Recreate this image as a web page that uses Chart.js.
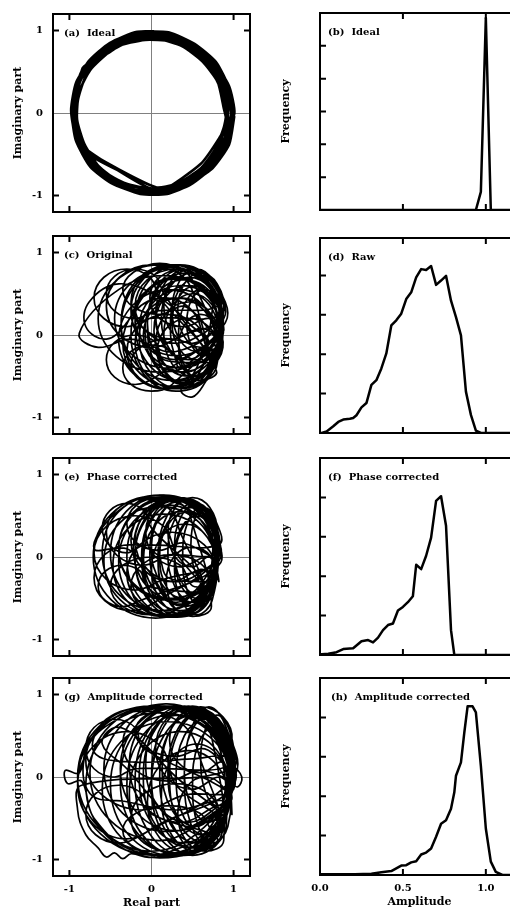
<!DOCTYPE html>
<html>
<head>
<meta charset="utf-8">
<script src="https://cdn.jsdelivr.net/npm/chart.js@4/dist/chart.umd.min.js"></script>
<style>
  html, body { margin: 0; padding: 0; background: #fff; overflow: hidden; width: 510px; height: 907px; }
  canvas { position: absolute; }
</style>
</head>
<body>
<canvas id="ca"></canvas><canvas id="cb"></canvas>
<canvas id="cc"></canvas><canvas id="cd"></canvas>
<canvas id="ce"></canvas><canvas id="cf"></canvas>
<canvas id="cg"></canvas><canvas id="ch"></canvas>
<script>
// ---- Complex-plane traces ----
// Ideal trace samples as [angle in degrees, magnitude]
const idealPolar = [
  [2,.97],[22,.96],[41,.95],[61,.94],[80,.95],[99,.96],[120,.95],[139,.96],[158,.97],[180,.96],[199,.95],[220,.94],[241,.93],[259,.95],[279,.96],[300,.95],[320,.93],[341,.94],
  [0,1.01],[19,1.0],[40,.98],[58,.98],[79,.99],[100,1.0],[121,.99],[141,.99],[162,.98],[181,.97],[200,.98],[221,.99],[240,.98],[262,.99],[281,1.0],[299,.99],[318,.99],[339,1.01],
  [1,.90],[20,.89],[39,.90],[60,.91],[81,.92],[102,.95],[127,.90],[147,1.0],[193,.95],[209,.92],[273,.90],[290,.91],[312,.90],[331,.89],[350,.90],
  [8,.93],[29,.92],[50,.93],[70,.92],[90,.93],[110,.92],[131,.93],[150,.92],[170,.91],[190,.92],[210,.93],[230,.92],[250,.91],[270,.92],[290,.93],[310,.92],[330,.91],[350,.92],
  [10,.96],[30,.97],[50,.96],[70,.97],[90,.96],[110,.97],[130,.96],[150,.97],[170,.95],[190,.96],[205,.94],[268,.91],[285,.93],[305,.95],[325,.96],[345,.97],
  [5,.88],[25,.89],[45,.88],[65,.89],[85,.90],[105,.91],[125,.90],[145,.91],[165,.92],[185,.91],[205,.90],[225,.91],[245,.92],[265,.93],[278,.95],[314,.86],[340,.88],
  [0,.99],[18,.97],[38,.96],[57,.97],[77,.98],[97,.97],[117,.96],[137,.97],[157,.96],[177,.95],[197,.96],[212,.93],[276,.92],[295,.94],[315,.96],[335,.98],[355,.99],
  [15,.94],[35,.95],[55,.94],[75,.95],[95,.94],[115,.93],[135,.94],[155,.95],[175,.94],[195,.93],[215,.95],[235,.96],[255,.97],[275,.96],[295,.95],[315,.94],[335,.95],[355,.94],
  [15,.91],[35,.90],[55,.91],[75,.90],[95,.89],[118,.91],[150,.99],[180,.93],[200,.92],[220,.93],[240,.94],[260,.96],[280,.98],[300,.97],[320,.96],[340,.95],[358,.97],
  [18,.99],[38,1.0],[58,.99],[78,1.0],[98,.99],[118,.98],[138,.98],[158,.99],[178,.98],[198,.97],[218,.97],[238,.96],[258,.98],[278,.97],[298,.97],[318,1.0],[338,1.02],[358,1.01]
];

// Original trace as [real, imaginary]
const originalPath = [
  [0.85,0.10],[0.70,0.46],[0.35,0.60],[0.00,0.45],[-0.15,0.10],[0.00,-0.26],[0.35,-0.40],[0.70,-0.25],
  [0.87,0.15],[0.69,0.65],[0.25,0.85],[-0.19,0.65],[-0.37,0.15],[-0.19,-0.35],[0.25,-0.55],[0.69,-0.35],
  [0.87,0.05],[0.75,0.44],[0.45,0.60],[0.15,0.44],[0.03,0.05],[0.15,-0.34],[0.45,-0.50],[0.75,-0.34],
  [0.85,0.20],[0.63,0.66],[0.10,0.85],[-0.43,0.66],[-0.65,0.20],[-0.43,-0.26],[0.10,-0.45],[0.63,-0.26],
  [0.85,0.15],[0.72,0.57],[0.40,0.75],[0.08,0.57],[-0.05,0.15],[0.08,-0.27],[0.40,-0.45],[0.72,-0.27],
  [0.80,-0.05],[0.62,0.37],[0.20,0.55],[-0.22,0.37],[-0.40,-0.05],[-0.22,-0.47],[0.20,-0.65],[0.62,-0.47],
  [0.82,0.05],[0.65,0.55],[0.15,0.72],[-0.40,0.55],[-0.88,0.02],[-0.65,-0.15],[-0.25,-0.05],[0.30,-0.20],
  [0.88,0.20],[0.77,0.59],[0.50,0.75],[0.23,0.59],[0.12,0.20],[0.23,-0.19],[0.50,-0.35],[0.77,-0.19],
  [0.85,0.00],[0.69,0.48],[0.30,0.68],[-0.09,0.48],[-0.25,0.00],[-0.09,-0.48],[0.30,-0.68],[0.69,-0.48],
  [0.55,0.35],[0.39,0.70],[0.00,0.85],[-0.39,0.70],[-0.55,0.35],[-0.39,0.00],[0.00,-0.15],[0.39,0.00],
  [0.85,0.20],[0.73,0.55],[0.45,0.70],[0.17,0.55],[0.05,0.20],[0.17,-0.15],[0.45,-0.30],[0.73,-0.15],
  [0.70,-0.20],[0.55,0.12],[0.20,0.25],[-0.15,0.12],[-0.30,-0.20],[-0.15,-0.52],[0.20,-0.65],[0.55,-0.52],
  [0.80,-0.30],[0.65,-0.58],[0.50,-0.75],[0.36,-0.68],[0.45,-0.52],[0.62,-0.38],
  [0.85,0.30],[0.69,0.69],[0.30,0.85],[-0.09,0.69],[-0.25,0.30],[-0.09,-0.09],[0.30,-0.25],[0.69,-0.09],
  [0.50,0.10],[0.10,0.45],[-0.40,0.62],[-0.76,0.40],[-0.80,0.10],[-0.55,-0.05],[-0.30,0.15],[-0.10,0.50],[0.30,0.70],[0.70,0.45],
  [0.88,0.05],[0.74,0.49],[0.40,0.67],[0.06,0.49],[-0.08,0.05],[0.06,-0.39],[0.40,-0.57],[0.74,-0.39],
  [0.65,-0.10],[0.50,0.29],[0.15,0.45],[-0.20,0.29],[-0.35,-0.10],[-0.20,-0.49],[0.15,-0.65],[0.50,-0.49],
  [0.75,0.40],[0.60,0.72],[0.25,0.85],[-0.10,0.72],[-0.25,0.40],[-0.10,0.08],[0.25,-0.05],[0.60,0.08],
  [0.85,0.00],[0.75,0.35],[0.50,0.50],[0.25,0.35],[0.15,0.00],[0.25,-0.35],[0.50,-0.50],[0.75,-0.35],
  [0.15,-0.30],[0.05,-0.09],[-0.20,0.00],[-0.45,-0.09],[-0.55,-0.30],[-0.45,-0.51],[-0.20,-0.60],[0.05,-0.51],
  [0.90,0.15],[0.74,0.65],[0.35,0.85],[-0.04,0.65],[-0.20,0.15],[-0.04,-0.35],[0.35,-0.55],[0.74,-0.35],
  [0.10,0.45],[-0.02,0.70],[-0.30,0.80],[-0.58,0.70],[-0.70,0.45],[-0.58,0.20],[-0.30,0.10],[-0.02,0.20],
  [0.85,0.25],[0.73,0.64],[0.45,0.80],[0.17,0.64],[0.05,0.25],[0.17,-0.14],[0.45,-0.30],[0.73,-0.14],
  [0.80,-0.10],[0.65,0.29],[0.30,0.45],[-0.05,0.29],[-0.20,-0.10],[-0.05,-0.49],[0.30,-0.65],[0.65,-0.49],
  [0.87,0.10],[0.78,0.52],[0.55,0.70],[0.32,0.52],[0.23,0.10],[0.32,-0.32],[0.55,-0.50],[0.78,-0.32],
  [0.85,0.20],[0.66,0.62],[0.20,0.80],[-0.26,0.62],[-0.45,0.20],[-0.26,-0.22],[0.20,-0.40],[0.66,-0.22],
  [0.88,0.30],[0.80,0.62],[0.60,0.75],[0.40,0.62],[0.32,0.30],[0.40,-0.02],[0.60,-0.15],[0.80,-0.02],
  [0.85,-0.05],[0.70,0.37],[0.35,0.55],[0.00,0.37],[-0.15,-0.05],[0.00,-0.47],[0.35,-0.65],[0.70,-0.47],
  [0.85,0.15],[0.76,0.47],[0.55,0.60],[0.34,0.47],[0.25,0.15],[0.34,-0.17],[0.55,-0.30],[0.76,-0.17],
  [0.83,-0.20],[0.72,0.08],[0.45,0.20],[0.18,0.08],[0.07,-0.20],[0.18,-0.48],[0.45,-0.60],[0.72,-0.48],
  [0.82,0.45],[0.70,0.70],[0.40,0.80],[0.10,0.70],[-0.02,0.45],[0.10,0.20],[0.40,0.10],[0.70,0.20],
  [0.87,0.00],[0.79,0.39],[0.60,0.55],[0.41,0.39],[0.33,0.00],[0.41,-0.39],[0.60,-0.55],[0.79,-0.39],
  [0.80,0.20],[0.65,0.55],[0.30,0.70],[-0.05,0.55],[-0.20,0.20],[-0.05,-0.15],[0.30,-0.30],[0.65,-0.15],
  [0.65,-0.35],[0.52,-0.14],[0.20,-0.05],[-0.12,-0.14],[-0.25,-0.35],[-0.12,-0.56],[0.20,-0.65],[0.52,-0.56],
  [0.85,0.35],[0.75,0.67],[0.50,0.80],[0.25,0.67],[0.15,0.35],[0.25,0.03],[0.50,-0.10],[0.75,0.03],
  [0.80,0.00],[0.67,0.32],[0.35,0.45],[0.03,0.32],[-0.10,0.00],[0.03,-0.32],[0.35,-0.45],[0.67,-0.32],
  [0.87,0.15],[0.81,0.43],[0.65,0.55],[0.49,0.43],[0.43,0.15],[0.49,-0.13],[0.65,-0.25],[0.81,-0.13],
  [0.55,0.55],[0.42,0.76],[0.10,0.87],[-0.22,0.76],[-0.35,0.55],[-0.22,0.34],[0.10,0.25],[0.42,0.34],
  [0.85,-0.10],[0.73,0.25],[0.45,0.40],[0.17,0.25],[0.05,-0.10],[0.17,-0.45],[0.45,-0.60],[0.73,-0.45],
  [0.87,0.10],[0.69,0.61],[0.25,0.82],[-0.19,0.61],[-0.37,0.10],[-0.19,-0.41],[0.25,-0.62],[0.69,-0.41],
  [0.85,0.30],[0.76,0.65],[0.55,0.80],[0.34,0.65],[0.25,0.30],[0.34,-0.05],[0.55,-0.20],[0.76,-0.05],
  [0.35,-0.40],[0.25,-0.20],[0.00,-0.12],[-0.25,-0.20],[-0.35,-0.40],[-0.25,-0.60],[0.00,-0.68],[0.25,-0.60],
  [0.85,0.10],[0.72,0.60],[0.40,0.80],[0.08,0.60],[-0.05,0.10],[0.08,-0.40],[0.40,-0.60],[0.72,-0.40],
  [0.87,-0.15],[0.79,0.13],[0.60,0.25],[0.41,0.13],[0.33,-0.15],[0.41,-0.43],[0.60,-0.55],[0.79,-0.43],
  [0.15,0.50],[0.05,0.71],[-0.20,0.80],[-0.45,0.71],[-0.55,0.50],[-0.45,0.29],[-0.20,0.20],[0.05,0.29],
  [0.80,0.35],[0.65,0.67],[0.30,0.80],[-0.05,0.67],[-0.20,0.35],[-0.05,0.03],[0.30,-0.10],[0.65,0.03],[0.84,0.20]
];

// Phase-corrected trace as [real, imaginary]
const phasePath = [
  [0.81,0.00],[0.59,0.52],[0.05,0.74],[-0.49,0.52],[-0.71,0.00],[-0.49,-0.52],[0.05,-0.74],[0.59,-0.52],
  [0.80,0.00],[0.64,0.50],[0.25,0.70],[-0.14,0.50],[-0.30,0.00],[-0.14,-0.50],[0.25,-0.70],[0.64,-0.50],
  [0.80,0.05],[0.67,0.49],[0.35,0.67],[0.03,0.49],[-0.10,0.05],[0.03,-0.39],[0.35,-0.57],[0.67,-0.39],
  [0.80,0.05],[0.60,0.55],[0.10,0.75],[-0.40,0.55],[-0.60,0.05],[-0.40,-0.45],[0.10,-0.65],[0.60,-0.45],
  [0.80,0.00],[0.70,0.39],[0.45,0.55],[0.20,0.39],[0.10,0.00],[0.20,-0.39],[0.45,-0.55],[0.70,-0.39],
  [0.80,0.10],[0.62,0.54],[0.20,0.72],[-0.22,0.54],[-0.40,0.10],[-0.22,-0.34],[0.20,-0.52],[0.62,-0.34],
  [0.78,-0.05],[0.55,0.50],[0.00,0.72],[-0.45,0.52],[-0.70,0.10],[-0.30,0.10],[-0.05,-0.15],[0.30,-0.55],
  [0.77,-0.10],[0.59,0.34],[0.15,0.52],[-0.29,0.34],[-0.47,-0.10],[-0.29,-0.54],[0.15,-0.72],[0.59,-0.54],
  [0.80,0.10],[0.68,0.52],[0.40,0.70],[0.12,0.52],[0.00,0.10],[0.12,-0.32],[0.40,-0.50],[0.68,-0.32],
  [0.20,-0.25],[0.07,0.03],[-0.25,0.15],[-0.57,0.03],[-0.70,-0.25],[-0.57,-0.53],[-0.25,-0.65],[0.07,-0.53],
  [0.80,0.00],[0.65,0.48],[0.30,0.68],[-0.05,0.48],[-0.20,0.00],[-0.05,-0.48],[0.30,-0.68],[0.65,-0.48],
  [0.35,0.30],[0.22,0.58],[-0.10,0.70],[-0.42,0.58],[-0.55,0.30],[-0.42,0.02],[-0.10,-0.10],[0.22,0.02],
  [0.80,0.05],[0.71,0.47],[0.50,0.65],[0.29,0.47],[0.20,0.05],[0.29,-0.37],[0.50,-0.55],[0.71,-0.37],
  [0.78,-0.05],[0.58,0.42],[0.10,0.61],[-0.38,0.42],[-0.58,-0.05],[-0.38,-0.52],[0.10,-0.71],[0.58,-0.52],
  [0.75,0.20],[0.60,0.55],[0.25,0.70],[-0.10,0.55],[-0.25,0.20],[-0.10,-0.15],[0.25,-0.30],[0.60,-0.15],
  [0.80,-0.20],[0.64,0.15],[0.25,0.30],[-0.14,0.15],[-0.30,-0.20],[-0.14,-0.55],[0.25,-0.70],[0.64,-0.55],
  [0.82,0.00],[0.68,0.51],[0.35,0.72],[0.02,0.51],[-0.12,0.00],[0.02,-0.51],[0.35,-0.72],[0.68,-0.51],
  [0.30,0.05],[0.15,0.37],[-0.20,0.50],[-0.55,0.37],[-0.70,0.05],[-0.55,-0.27],[-0.20,-0.40],[0.15,-0.27],
  [0.82,-0.05],[0.71,0.41],[0.45,0.60],[0.19,0.41],[0.08,-0.05],[0.19,-0.51],[0.45,-0.70],[0.71,-0.51],
  [0.80,0.05],[0.61,0.55],[0.15,0.75],[-0.31,0.55],[-0.50,0.05],[-0.31,-0.45],[0.15,-0.65],[0.61,-0.45],
  [0.82,0.00],[0.74,0.35],[0.55,0.50],[0.36,0.35],[0.28,0.00],[0.36,-0.35],[0.55,-0.50],[0.74,-0.35],
  [0.50,-0.35],[0.35,-0.10],[0.00,0.00],[-0.35,-0.10],[-0.50,-0.35],[-0.35,-0.60],[0.00,-0.70],[0.35,-0.60],
  [0.82,0.10],[0.67,0.54],[0.30,0.72],[-0.07,0.54],[-0.22,0.10],[-0.07,-0.34],[0.30,-0.52],[0.67,-0.34],
  [0.80,-0.05],[0.62,0.43],[0.20,0.63],[-0.22,0.43],[-0.40,-0.05],[-0.22,-0.53],[0.20,-0.73],[0.62,-0.53],
  [0.82,0.10],[0.74,0.49],[0.55,0.65],[0.36,0.49],[0.28,0.10],[0.36,-0.29],[0.55,-0.45],[0.74,-0.29],
  [0.80,-0.15],[0.68,0.24],[0.40,0.40],[0.12,0.24],[0.00,-0.15],[0.12,-0.54],[0.40,-0.70],[0.68,-0.54],
  [0.77,0.30],[0.65,0.60],[0.35,0.72],[0.05,0.60],[-0.07,0.30],[0.05,0.00],[0.35,-0.12],[0.65,0.00],
  [0.82,0.00],[0.76,0.42],[0.60,0.60],[0.44,0.42],[0.38,0.00],[0.44,-0.42],[0.60,-0.60],[0.76,-0.42],
  [0.75,-0.35],[0.60,-0.08],[0.25,0.03],[-0.10,-0.08],[-0.25,-0.35],[-0.10,-0.62],[0.25,-0.73],[0.60,-0.62],
  [0.80,0.00],[0.65,0.51],[0.30,0.72],[-0.05,0.51],[-0.20,0.00],[-0.05,-0.51],[0.30,-0.72],[0.65,-0.51],
  [0.80,0.30],[0.71,0.60],[0.50,0.72],[0.29,0.60],[0.20,0.30],[0.29,0.00],[0.50,-0.12],[0.71,0.00],
  [0.82,-0.30],[0.73,0.00],[0.50,0.12],[0.27,0.00],[0.18,-0.30],[0.27,-0.60],[0.50,-0.72],[0.73,-0.60],
  [0.50,0.40],[0.38,0.63],[0.10,0.72],[-0.18,0.63],[-0.30,0.40],[-0.18,0.17],[0.10,0.08],[0.38,0.17],
  [0.82,0.00],[0.71,0.50],[0.45,0.70],[0.19,0.50],[0.08,0.00],[0.19,-0.50],[0.45,-0.70],[0.71,-0.50],
  [0.80,0.10],[0.62,0.52],[0.20,0.70],[-0.22,0.52],[-0.40,0.10],[-0.22,-0.32],[0.20,-0.50],[0.62,-0.32],
  [0.00,0.35],[-0.09,0.56],[-0.30,0.65],[-0.51,0.56],[-0.60,0.35],[-0.51,0.14],[-0.30,0.05],[-0.09,0.14],
  [0.82,0.15],[0.77,0.47],[0.65,0.60],[0.53,0.47],[0.48,0.15],[0.53,-0.17],[0.65,-0.30],[0.77,-0.17],
  [0.80,-0.05],[0.67,0.37],[0.35,0.55],[0.03,0.37],[-0.10,-0.05],[0.03,-0.47],[0.35,-0.65],[0.67,-0.47],
  [-0.05,-0.35],[-0.14,-0.17],[-0.35,-0.10],[-0.56,-0.17],[-0.65,-0.35],[-0.56,-0.53],[-0.35,-0.60],[-0.14,-0.53],
  [0.82,-0.10],[0.74,0.32],[0.55,0.50],[0.36,0.32],[0.28,-0.10],[0.36,-0.52],[0.55,-0.70],[0.74,-0.52],
  [0.80,0.20],[0.65,0.55],[0.30,0.70],[-0.05,0.55],[-0.20,0.20],[-0.05,-0.15],[0.30,-0.30],[0.65,-0.15],
  [0.82,0.05],[0.70,0.51],[0.40,0.70],[0.10,0.51],[-0.02,0.05],[0.10,-0.41],[0.40,-0.60],[0.70,-0.41],[0.81,0.00]
];

// Amplitude-corrected trace as [real, imaginary]
const amplitudePath = [
  [1.00,-0.05],[0.72,0.59],[0.05,0.85],[-0.62,0.59],[-0.90,-0.05],[-0.62,-0.69],[0.05,-0.95],[0.72,-0.69],
  [0.98,-0.05],[0.78,0.57],[0.30,0.85],[-0.18,0.57],[-0.38,-0.05],[-0.18,-0.67],[0.30,-0.93],[0.78,-0.67],
  [0.95,0.00],[0.64,0.61],[0.00,0.86],[-0.64,0.61],[-0.90,0.00],[-0.64,-0.61],[0.00,-0.90],[0.64,-0.61],
  [1.00,0.00],[0.84,0.60],[0.45,0.86],[0.06,0.60],[-0.10,0.00],[0.06,-0.60],[0.45,-0.85],[0.84,-0.60],
  [0.90,0.10],[0.50,0.80],[-0.20,0.82],[-0.75,0.45],[-0.88,0.05],[-1.05,0.08],[-1.02,-0.08],[-0.85,-0.05],[-0.70,-0.50],[-0.20,-0.90],[0.50,-0.85],
  [0.98,0.10],[0.75,0.64],[0.20,0.86],[-0.35,0.64],[-0.58,0.10],[-0.35,-0.44],[0.20,-0.66],[0.75,-0.44],
  [1.00,-0.10],[0.81,0.50],[0.35,0.75],[-0.11,0.50],[-0.30,-0.10],[-0.11,-0.70],[0.35,-0.95],[0.81,-0.70],
  [0.95,0.20],[0.50,0.22],[-0.20,0.18],[-0.70,0.30],[-0.55,0.70],[0.00,0.85],[0.60,0.78],[0.95,0.35],
  [1.00,0.00],[0.87,0.57],[0.55,0.80],[0.23,0.57],[0.10,0.00],[0.23,-0.57],[0.55,-0.80],[0.87,-0.57],
  [0.30,-0.10],[0.12,0.36],[-0.30,0.55],[-0.72,0.36],[-0.90,-0.10],[-0.72,-0.56],[-0.30,-0.75],[0.12,-0.56],
  [1.00,-0.10],[0.78,0.50],[0.25,0.75],[-0.28,0.50],[-0.50,-0.10],[-0.28,-0.70],[0.25,-0.95],[0.78,-0.70],
  [0.90,-0.30],[0.30,-0.40],[-0.30,-0.30],[-0.75,-0.20],[-0.80,0.30],[-0.50,0.65],[0.10,0.85],[0.70,0.70],
  [1.00,0.05],[0.88,0.58],[0.60,0.80],[0.32,0.58],[0.20,0.05],[0.32,-0.48],[0.60,-0.70],[0.88,-0.48],
  [0.95,0.05],[0.70,0.63],[0.10,0.86],[-0.50,0.63],[-0.75,0.05],[-0.50,-0.53],[0.10,-0.77],[0.70,-0.53],
  [0.90,-0.50],[0.30,0.00],[-0.20,0.50],[-0.45,0.60],[-0.60,0.40],[-0.30,0.10],[0.20,-0.50],[0.50,-0.85],
  [1.00,-0.05],[0.82,0.59],[0.40,0.86],[-0.02,0.59],[-0.20,-0.05],[-0.02,-0.69],[0.40,-0.95],[0.82,-0.69],
  [0.00,-0.97],[-0.25,-0.93],[-0.35,-0.99],[-0.45,-0.92],[-0.55,-0.97],[-0.65,-0.86],[-0.80,-0.70],[-0.90,-0.40],[-0.85,-0.10],
  [0.98,0.10],[0.78,0.63],[0.30,0.85],[-0.18,0.63],[-0.38,0.10],[-0.18,-0.43],[0.30,-0.65],[0.78,-0.43],
  [1.00,-0.10],[0.85,0.50],[0.50,0.75],[0.15,0.50],[0.00,-0.10],[0.15,-0.70],[0.50,-0.95],[0.85,-0.70],
  [0.60,0.20],[0.40,0.62],[-0.10,0.80],[-0.60,0.62],[-0.80,0.20],[-0.60,-0.22],[-0.10,-0.40],[0.40,-0.22],
  [1.00,-0.15],[0.77,0.43],[0.20,0.67],[-0.37,0.43],[-0.60,-0.15],[-0.37,-0.73],[0.20,-0.97],[0.77,-0.73],
  [1.00,0.00],[0.90,0.50],[0.65,0.70],[0.40,0.50],[0.30,0.00],[0.40,-0.50],[0.65,-0.70],[0.90,-0.50],
  [1.00,0.10],[1.10,0.00],[1.05,-0.12],[0.95,-0.05],
  [1.00,-0.10],[0.74,0.52],[0.10,0.78],[-0.54,0.52],[-0.80,-0.10],[-0.54,-0.72],[0.10,-0.98],[0.74,-0.72],
  [0.97,0.15],[0.82,0.65],[0.45,0.85],[0.08,0.65],[-0.07,0.15],[0.08,-0.35],[0.45,-0.55],[0.82,-0.35],
  [0.97,-0.20],[0.79,0.33],[0.35,0.55],[-0.09,0.33],[-0.27,-0.20],[-0.09,-0.73],[0.35,-0.95],[0.79,-0.73],
  [1.00,0.10],[0.91,0.56],[0.70,0.75],[0.49,0.56],[0.40,0.10],[0.49,-0.36],[0.70,-0.55],[0.91,-0.36],
  [0.98,-0.25],[0.85,0.21],[0.55,0.40],[0.25,0.21],[0.12,-0.25],[0.25,-0.71],[0.55,-0.90],[0.85,-0.71],
  [0.95,0.35],[0.82,0.70],[0.50,0.85],[0.18,0.70],[0.05,0.35],[0.18,0.00],[0.50,-0.15],[0.82,0.00],
  [1.00,-0.10],[0.93,0.40],[0.75,0.60],[0.57,0.40],[0.50,-0.10],[0.57,-0.60],[0.75,-0.80],[0.93,-0.60],
  [0.95,0.00],[0.79,0.57],[0.40,0.80],[0.01,0.57],[-0.15,0.00],[0.01,-0.57],[0.40,-0.80],[0.79,-0.57],
  [0.85,-0.50],[0.69,-0.20],[0.30,-0.08],[-0.09,-0.20],[-0.25,-0.50],[-0.09,-0.80],[0.30,-0.92],[0.69,-0.80],
  [0.98,0.45],[0.87,0.73],[0.60,0.85],[0.33,0.73],[0.22,0.45],[0.33,0.17],[0.60,0.05],[0.87,0.17],
  [0.98,-0.45],[0.88,-0.13],[0.65,0.00],[0.42,-0.13],[0.32,-0.45],[0.42,-0.77],[0.65,-0.90],[0.88,-0.77],
  [0.75,0.40],[0.59,0.72],[0.20,0.85],[-0.19,0.72],[-0.35,0.40],[-0.19,0.08],[0.20,-0.05],[0.59,0.08],
  [1.00,0.00],[0.85,0.61],[0.50,0.86],[0.15,0.61],[0.00,0.00],[0.15,-0.61],[0.50,-0.86],[0.85,-0.61],
  [1.00,0.20],[0.94,0.59],[0.80,0.75],[0.66,0.59],[0.60,0.20],[0.66,-0.19],[0.80,-0.35],[0.94,-0.19],
  [-0.10,0.35],[-0.20,0.60],[-0.45,0.70],[-0.70,0.60],[-0.80,0.35],[-0.70,0.10],[-0.45,0.00],[-0.20,0.10],
  [0.97,0.15],[0.79,0.65],[0.35,0.85],[-0.09,0.65],[-0.27,0.15],[-0.09,-0.35],[0.35,-0.55],[0.79,-0.35],
  [0.95,-0.30],[0.80,0.14],[0.45,0.32],[0.10,0.14],[-0.05,-0.30],[0.10,-0.74],[0.45,-0.92],[0.80,-0.74],
  [0.00,-0.45],[-0.12,-0.20],[-0.40,-0.10],[-0.68,-0.20],[-0.80,-0.45],[-0.68,-0.70],[-0.40,-0.80],[-0.12,-0.70],
  [1.00,0.00],[0.91,0.60],[0.70,0.85],[0.49,0.60],[0.40,0.00],[0.49,-0.60],[0.70,-0.85],[0.91,-0.60],
  [0.80,0.55],[0.65,0.76],[0.30,0.86],[-0.05,0.76],[-0.20,0.55],[-0.05,0.34],[0.30,0.25],[0.65,0.34],
  [0.97,0.10],[0.85,0.60],[0.55,0.80],[0.25,0.60],[0.13,0.10],[0.25,-0.40],[0.55,-0.60],[0.85,-0.40],
  [0.75,-0.65],[0.59,-0.44],[0.20,-0.35],[-0.19,-0.44],[-0.35,-0.65],[-0.19,-0.86],[0.20,-0.95],[0.59,-0.86],
  [0.98,0.00],[0.87,0.55],[0.60,0.78],[0.33,0.55],[0.22,0.00],[0.33,-0.55],[0.60,-0.78],[0.87,-0.55],[0.99,-0.05]
];

// ---- Amplitude histograms ----
const ampIdeal  = [0.00, 0.94, 0.97, 1.00, 1.03, 1.20];
const freqIdeal = [0, 0, 0.55, 5.85, 0, 0];

const ampRaw  = [0.00,0.01,0.04,0.08,0.11,0.14,0.18,0.20,0.22,0.25,0.28,0.31,0.34,0.37,0.40,0.43,0.46,0.49,0.52,0.55,0.58,0.61,0.64,0.67,0.70,0.73,0.76,0.79,0.82,0.85,0.88,0.91,0.94,0.97,1.20];
const freqRaw = [0,0,0.04,0.17,0.28,0.34,0.36,0.38,0.45,0.65,0.76,1.22,1.34,1.64,2.02,2.73,2.86,3.03,3.40,3.57,3.95,4.16,4.14,4.24,3.76,3.87,3.99,3.36,2.94,2.48,1.05,0.46,0.06,0,0];

const ampPhase  = [0.00,0.01,0.05,0.10,0.14,0.20,0.25,0.29,0.32,0.35,0.38,0.41,0.44,0.47,0.50,0.53,0.56,0.58,0.61,0.64,0.67,0.70,0.73,0.76,0.79,0.81,1.20];
const freqPhase = [0.02,0.02,0.03,0.07,0.15,0.17,0.35,0.38,0.32,0.44,0.63,0.76,0.80,1.13,1.22,1.34,1.49,2.29,2.18,2.52,2.98,3.91,4.03,3.28,0.63,0,0];

const ampAmpCorr  = [0.00,0.01,0.11,0.21,0.31,0.37,0.43,0.46,0.49,0.52,0.55,0.58,0.61,0.64,0.67,0.70,0.73,0.76,0.79,0.81,0.82,0.85,0.87,0.89,0.92,0.94,0.97,1.00,1.03,1.06,1.10,1.20];
const freqAmpCorr = [0.02,0.02,0.02,0.02,0.03,0.07,0.10,0.17,0.24,0.25,0.32,0.35,0.52,0.57,0.67,0.97,1.30,1.39,1.68,2.10,2.52,2.86,3.61,4.28,4.28,4.13,2.77,1.18,0.34,0.08,0,0];

// Axis tick values
const complexTicks = [-1, 0, 1];
const amplitudeTicks = [0, 0.5, 1.0];
const amplitudeMarks = [0.5, 1.0];

// ---- Drawing ----
const SERIF = '"DejaVu Serif", "Liberation Serif", serif';
Chart.defaults.font.family = SERIF;
Chart.defaults.font.weight = 'bold';
Chart.defaults.font.size = 10;
Chart.defaults.color = '#000';

const COLS = {
  left:  { x: 0,   w: 255, plotL: 53,  plotR: 250, titlePad: 12 },
  right: { x: 255, w: 280, plotL: 320, plotR: 519, titlePad: 25 }
};

const pairsToPoints = pairs => pairs.map(p => ({ x: p[0], y: p[1] }));
const polarToPoints = pairs => pairs.map(([deg, r]) => ({
  x: r * Math.cos(deg * Math.PI / 180),
  y: r * Math.sin(deg * Math.PI / 180)
}));
const zip = (xs, ys) => xs.map((x, i) => ({ x, y: ys[i] }));

// Frame, inward tick marks and the panel caption
function framePlugin(p) {
  return {
    id: 'frame',
    afterDatasetsDraw(chart) {
      const { ctx, chartArea: a, scales: { x, y } } = chart;
      const L = 6;
      ctx.save();
      ctx.strokeStyle = '#000';
      ctx.lineWidth = 2;
      ctx.beginPath();
      p.xMarks.forEach(v => {
        const px = x.getPixelForValue(v);
        ctx.moveTo(px, a.top); ctx.lineTo(px, a.top + L);
        ctx.moveTo(px, a.bottom); ctx.lineTo(px, a.bottom - L);
      });
      p.yMarks.forEach(v => {
        const py = y.getPixelForValue(v);
        ctx.moveTo(a.left, py); ctx.lineTo(a.left + L, py);
        if (p.mirrorY) { ctx.moveTo(a.right, py); ctx.lineTo(a.right - L, py); }
      });
      ctx.stroke();
      ctx.strokeRect(a.left, a.top, a.right - a.left, a.bottom - a.top);
      ctx.fillStyle = '#000';
      ctx.font = 'bold 10px ' + SERIF;
      ctx.textBaseline = 'middle';
      ctx.textAlign = 'left';
      ctx.fillText(p.caption, a.left + p.capX, a.top + 19);
      ctx.restore();
    }
  };
}

// Keep the plot area fixed: no extra room reserved for edge labels
const noEdgePadding = s => { s.paddingTop = 0; s.paddingBottom = 0; s.paddingLeft = 0; s.paddingRight = 0; };

function makePanel(p) {
  const col = COLS[p.col];
  const [top, bottom] = p.rows;
  const padTop = 8;
  const xh = p.bottomRow ? 34 : 8;
  const cv = document.getElementById(p.id);
  cv.width = col.w;
  cv.height = bottom - top + padTop + xh;
  cv.style.left = col.x + 'px';
  cv.style.top = (top - padTop) + 'px';
  const zeroGrid = {
    display: p.zeroLines,
    drawTicks: false,
    lineWidth: 1,
    color: c => (c.tick && c.tick.value === 0) ? '#808080' : 'rgba(0,0,0,0)'
  };
  new Chart(cv, {
    type: 'scatter',
    data: { datasets: p.datasets },
    options: {
      responsive: false,
      animation: false,
      events: [],
      layout: { padding: { top: padTop, right: col.x + col.w - col.plotR, bottom: 0, left: 0 } },
      plugins: { legend: { display: false }, tooltip: { enabled: false } },
      scales: {
        x: {
          type: 'linear', min: p.xMin, max: p.xMax,
          afterBuildTicks: s => { s.ticks = p.xLabels.map(v => ({ value: v })); },
          afterFit: s => { s.height = xh; noEdgePadding(s); },
          grid: zeroGrid,
          border: { display: false },
          ticks: { display: p.bottomRow, padding: 7, autoSkip: false, maxRotation: 0, callback: p.xFmt },
          title: { display: p.bottomRow, text: p.xTitle, padding: 0, font: { size: 11, weight: 'bold' } }
        },
        y: {
          type: 'linear', min: p.yMin, max: p.yMax,
          afterBuildTicks: s => { s.ticks = p.yLabels.map(v => ({ value: v })); },
          afterFit: s => { s.width = col.plotL - col.x; noEdgePadding(s); },
          grid: zeroGrid,
          border: { display: false },
          ticks: { display: p.yLabels.length > 0 && p.col === 'left', padding: 10, autoSkip: false, callback: v => String(v) },
          title: { display: true, text: p.yTitle, padding: { top: col.titlePad, bottom: 0 }, font: { size: 11, weight: 'bold' } }
        }
      }
    },
    plugins: [framePlugin(p)]
  });
}

const traceStyle = data => ({ data, showLine: true, borderColor: '#000', borderWidth: 1.7, pointRadius: 0, tension: 0.4 });
const histStyle = data => ({ data, showLine: true, borderColor: '#000', borderWidth: 2.5, pointRadius: 0, tension: 0, borderJoinStyle: 'round' });

const leftRows  = [[14, 212], [236, 434], [458, 656], [678, 876]];
const rightRows = [[13, 210], [238, 433], [458, 655], [678, 875]];

const complexPanels = [
  { id: 'ca', caption: '(a)  Ideal', data: polarToPoints(idealPolar), width: 2.6, tension: 0.2 },
  { id: 'cc', caption: '(c)  Original', data: pairsToPoints(originalPath) },
  { id: 'ce', caption: '(e)  Phase corrected', data: pairsToPoints(phasePath) },
  { id: 'cg', caption: '(g)  Amplitude corrected', data: pairsToPoints(amplitudePath) }
];
complexPanels.forEach((c, i) => {
  const ds = traceStyle(c.data);
  if (c.width) ds.borderWidth = c.width;
  if (c.tension !== undefined) ds.tension = c.tension;
  makePanel({
    id: c.id, col: 'left', rows: leftRows[i], bottomRow: i === 3,
    xMin: -1.2, xMax: 1.2, yMin: -1.2, yMax: 1.2,
    xLabels: complexTicks, yLabels: complexTicks,
    xFmt: v => String(v), xTitle: 'Real part', yTitle: 'Imaginary part',
    zeroLines: true, xMarks: [-1, 1], yMarks: [-1, 1], mirrorY: true,
    caption: c.caption, capX: 11,
    datasets: [ds]
  });
});

const histPanels = [
  { id: 'cb', caption: '(b)  Ideal', amp: ampIdeal, freq: freqIdeal, yMax: 6, capX: 8 },
  { id: 'cd', caption: '(d)  Raw', amp: ampRaw, freq: freqRaw, yMax: 4.95, capX: 8 },
  { id: 'cf', caption: '(f)  Phase corrected', amp: ampPhase, freq: freqPhase, yMax: 5, capX: 8 },
  { id: 'ch', caption: '(h)  Amplitude corrected', amp: ampAmpCorr, freq: freqAmpCorr, yMax: 5, capX: 11 }
];
histPanels.forEach((h, i) => {
  const marks = [];
  for (let k = 1; k < h.yMax - 0.2; k++) marks.push(k);
  makePanel({
    id: h.id, col: 'right', rows: rightRows[i], bottomRow: i === 3,
    xMin: 0, xMax: 1.2, yMin: 0, yMax: h.yMax,
    xLabels: amplitudeTicks, yLabels: [],
    xFmt: v => v.toFixed(1), xTitle: 'Amplitude', yTitle: 'Frequency',
    zeroLines: false, xMarks: amplitudeMarks, yMarks: marks, mirrorY: false,
    caption: h.caption, capX: h.capX,
    datasets: [histStyle(zip(h.amp, h.freq))]
  });
});
</script>
</body>
</html>
